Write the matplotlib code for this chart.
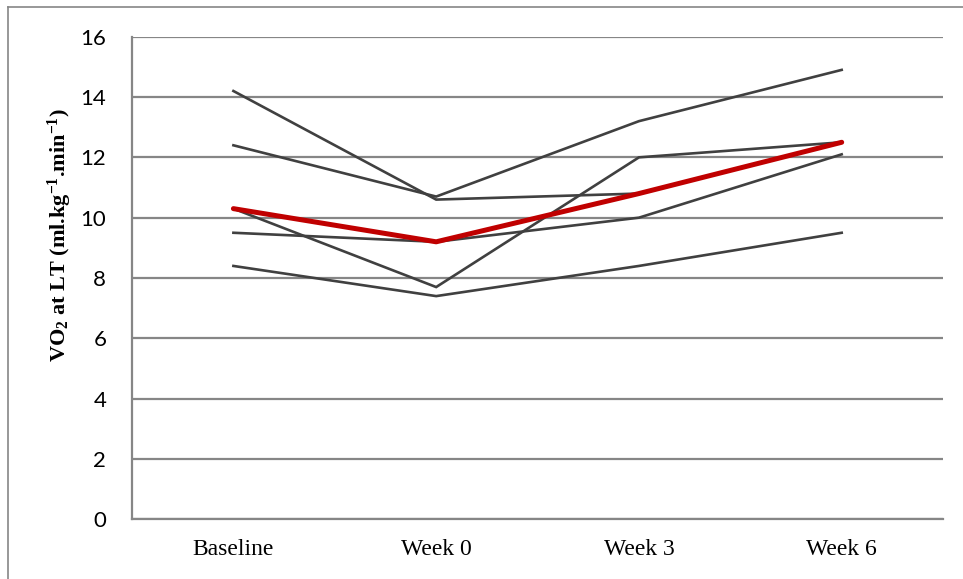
import matplotlib
matplotlib.use("Agg")
import matplotlib.pyplot as plt
from matplotlib.lines import Line2D

categories = ["Baseline", "Week 0", "Week 3", "Week 6"]
subject_1 = [14.2, 10.6, 10.8, 12.5]
subject_2 = [12.4, 10.7, 13.2, 14.9]
subject_3 = [10.3, 7.7, 12.0, 12.5]
subject_4 = [9.5, 9.2, 10.0, 12.1]
subject_5 = [8.4, 7.4, 8.4, 9.5]
median_line = [10.3, 9.2, 10.8, 12.5]
y_ticks = [0, 2, 4, 6, 8, 10, 12, 14, 16]

plt.rcParams['mathtext.fontset'] = 'custom'
plt.rcParams['mathtext.rm'] = 'Liberation Serif:bold'
plt.rcParams['mathtext.bf'] = 'Liberation Serif:bold'
plt.rcParams['mathtext.it'] = 'Liberation Serif:bold'
plt.rcParams['mathtext.default'] = 'bf'

fig = plt.figure(figsize=(9.63, 5.79), dpi=100)
ax = fig.add_axes([0.1371, 0.1031, 0.8422, 0.8335])

x = list(range(len(categories)))
for s in [subject_1, subject_2, subject_3, subject_4, subject_5]:
    ax.plot(x, s, color="#404040", lw=1.9, solid_joinstyle="miter", zorder=3)
ax.plot(x, median_line, color="#C00000", lw=3.6, solid_capstyle="round", zorder=4)

ax.set_xlim(-0.5, 3.5)
ax.set_ylim(0, 16)
ax.set_yticks(y_ticks)
ax.set_xticks(x)
ax.set_xticklabels(categories, fontfamily="Liberation Serif", fontsize=17)
for lab in ax.get_yticklabels():
    lab.set_fontfamily("Lato")
    lab.set_fontsize(16)
ax.tick_params(axis="both", length=0)
ax.tick_params(axis="y", pad=18.5)
ax.tick_params(axis="x", pad=14)

ax.grid(axis="y", color="#868686", lw=1.6, zorder=1)
ax.set_axisbelow(True)
for side in ["top", "right"]:
    ax.spines[side].set_visible(False)
for side in ["left", "bottom"]:
    ax.spines[side].set_color("#868686")
    ax.spines[side].set_linewidth(1.6)

ax.set_ylabel(r"VO$_2$ at LT (ml.kg$^{-1}$.min$^{-1}$)", fontsize=16,
              fontfamily="Liberation Serif", fontweight="bold")
ax.yaxis.set_label_coords(-0.071, 0.589)

# outer chart border (top and left visible)
fig.add_artist(Line2D([8/963, 1], [1 - 7/579, 1 - 7/579], transform=fig.transFigure, color="#868686", lw=1.2))
fig.add_artist(Line2D([8/963, 8/963], [0, 1 - 7/579], transform=fig.transFigure, color="#868686", lw=1.2))

fig.savefig("out.png", dpi=100)
